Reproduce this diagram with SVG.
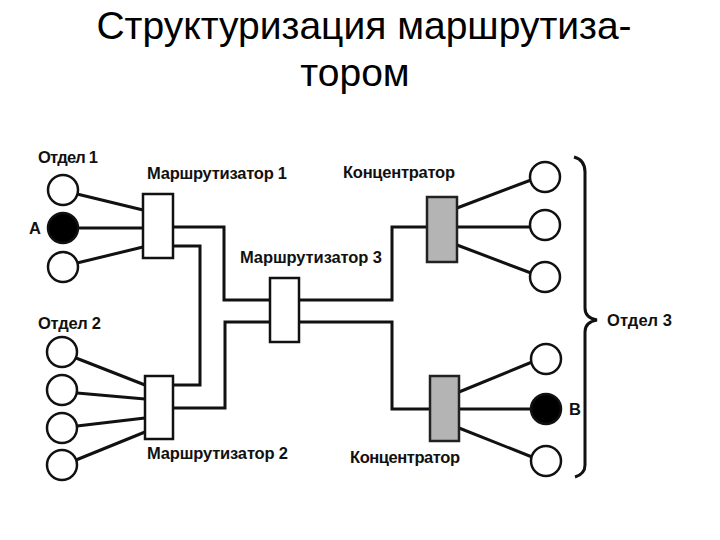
<svg xmlns="http://www.w3.org/2000/svg" width="720" height="540" viewBox="0 0 720 540">
<style>
.title{font-family:"Liberation Sans",Arial,sans-serif;font-size:39px;fill:#000}
.lbl{font-family:"Liberation Sans",Arial,sans-serif;font-size:16.5px;font-weight:bold;fill:#111}
.ws{fill:#fff;stroke:#111;stroke-width:2.5}
.bs{fill:#000;stroke:#111;stroke-width:2.5}
.rt{fill:#fff;stroke:#111;stroke-width:2.5}
.hub{fill:#b4b4b4;stroke:#222;stroke-width:2.5}
.ln{fill:none;stroke:#111;stroke-width:3}
</style>
<rect width="720" height="540" fill="#fff"/>
<text class="title" x="364" y="39" text-anchor="middle">Структуризация маршрутиза-</text>
<text class="title" x="355" y="86" text-anchor="middle">тором</text>

<g id="connectors">
<line class="ln" x1="77" y1="194" x2="143" y2="210"/>
<line class="ln" x1="77" y1="228" x2="143" y2="228"/>
<line class="ln" x1="77" y1="263" x2="143" y2="247"/>
<line class="ln" x1="76" y1="358" x2="145" y2="385"/>
<line class="ln" x1="77" y1="393" x2="145" y2="399"/>
<line class="ln" x1="77" y1="426" x2="145" y2="418"/>
<line class="ln" x1="76" y1="460" x2="145" y2="432"/>
<polyline class="ln" points="173,227 224,227 224,300 270,300"/>
<polyline class="ln" points="173,246 200,246 200,385 173,385"/>
<polyline class="ln" points="173,408 225,408 225,322 270,322"/>
<polyline class="ln" points="299,300 392,300 392,227 427,227"/>
<polyline class="ln" points="299,322 392,322 392,409 430,409"/>
<line class="ln" x1="457" y1="208" x2="531" y2="180"/>
<line class="ln" x1="457" y1="227" x2="530" y2="227"/>
<line class="ln" x1="457" y1="245" x2="531" y2="273"/>
<line class="ln" x1="459" y1="392" x2="532" y2="362"/>
<line class="ln" x1="459" y1="409" x2="531" y2="409"/>
<line class="ln" x1="459" y1="428" x2="532" y2="457"/>
</g>

<g id="dept1">
<text class="lbl" x="38" y="163" textLength="60">Отдел 1</text>
<circle class="ws" cx="63" cy="190" r="15"/>
<circle class="bs" cx="63" cy="228" r="15"/>
<circle class="ws" cx="63" cy="267" r="15"/>
<text class="lbl" x="29" y="234">A</text>
</g>
<g id="dept2">
<text class="lbl" x="38" y="329" textLength="63">Отдел 2</text>
<circle class="ws" cx="62" cy="352" r="15"/>
<circle class="ws" cx="62" cy="390" r="15"/>
<circle class="ws" cx="62" cy="428" r="15"/>
<circle class="ws" cx="62" cy="465" r="15"/>
</g>
<g id="router1">
<rect class="rt" x="143" y="194" width="30" height="64"/>
<text class="lbl" x="147" y="179" textLength="140">Маршрутизатор 1</text>
</g>
<g id="router2">
<rect class="rt" x="145" y="376" width="28" height="63"/>
<text class="lbl" x="147" y="459" textLength="141">Маршрутизатор 2</text>
</g>
<g id="router3">
<rect class="rt" x="270" y="278" width="29" height="64"/>
<text class="lbl" x="240" y="263" textLength="142">Маршрутизатор 3</text>
</g>
<g id="hub1">
<rect class="hub" x="427" y="197" width="30" height="65"/>
<text class="lbl" x="343" y="178" textLength="112">Концентратор</text>
</g>
<g id="hub2">
<rect class="hub" x="430" y="376" width="29" height="65"/>
<text class="lbl" x="350" y="463" textLength="110">Концентратор</text>
</g>
<g id="dept3">
<circle class="ws" cx="545" cy="177" r="15"/>
<circle class="ws" cx="545" cy="225" r="15"/>
<circle class="ws" cx="545" cy="277" r="15"/>
<circle class="ws" cx="546" cy="359" r="15"/>
<circle class="bs" cx="546" cy="409" r="15"/>
<circle class="ws" cx="546" cy="461" r="15"/>
<text class="lbl" x="569" y="415">B</text>
<path class="ln" stroke-width="2.5" d="M574,157 Q585,160 585,172 L585,308 Q585,318 597,320 Q585,322 585,332 L585,465 Q585,474 575,477"/>
<text class="lbl" x="607" y="326" textLength="65">Отдел 3</text>
</g>
</svg>
